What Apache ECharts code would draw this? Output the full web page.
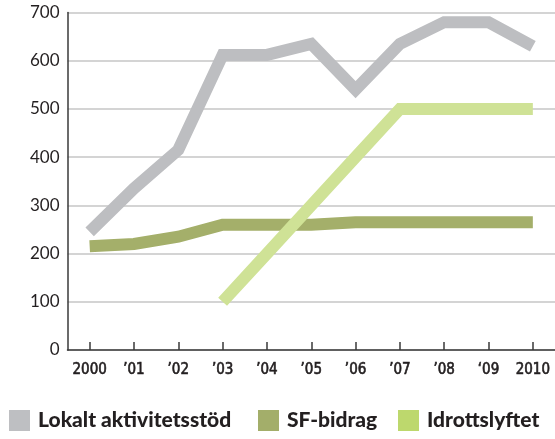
<!DOCTYPE html>
<html>
<head>
<meta charset="utf-8">
<title>Stöd 2000-2010</title>
<script src="https://cdn.jsdelivr.net/npm/echarts@6/dist/echarts.min.js"></script>
<style>
html, body { margin: 0; padding: 0; background: #fff; }
#main { width: 555px; height: 439px; }
</style>
</head>
<body>
<div id="main"></div>
<script>
// år på x-axeln
var years = ['2000', '\u201901', '\u201902', '\u201903', '\u201904', '\u201905', '\u201906', '\u201907', '\u201908', '\u201809', '2010'];

// värden
var lokaltStod = [245, 335, 415, 612, 612, 635, 540, 635, 680, 680, 630];
var sfBidrag = [215, 220, 235, 260, 260, 260, 265, 265, 265, 265, 265];
var idrottslyftet = ['-', '-', '-', 100, 200, 300, 400, 500, 500, 500, 500];

var yTicks = [0, 100, 200, 300, 400, 500, 600, 700];

var names = ['Lokalt aktivitetsstöd', 'SF-bidrag', 'Idrottslyftet'];
var lineColors = ['#bdbec1', '#a4af6a', '#cfe296'];
var legendColors = ['#bebfc2', '#a3ae6a', '#bdd86d'];
var legendLeft = [9, 258, 398];

var textColor = '#231f20';

var myChart = echarts.init(document.getElementById('main'));

var legends = names.map(function (n, i) {
	return {
		data: [{ name: n, itemStyle: { color: legendColors[i], borderWidth: 0 } }],
		left: legendLeft[i],
		top: 410,
		padding: 0,
		icon: 'rect',
		itemWidth: 21,
		itemHeight: 21,
		selectedMode: false,
		textStyle: {
			fontFamily: 'Lato',
			fontWeight: 900,
			fontSize: 21,
			color: textColor,
			padding: [0, 0, 0, 3]
		}
	};
});

var seriesData = [lokaltStod, sfBidrag, idrottslyftet];

var option = {
	animation: false,
	legend: legends,
	grid: { left: 67.5, top: 12.5, width: 490, height: 337.5 },
	xAxis: {
		type: 'category',
		data: years,
		boundaryGap: true,
		axisLine: { lineStyle: { color: '#3a3a3a', width: 1.5 } },
		axisTick: { show: true, inside: true, length: 8, alignWithLabel: true, lineStyle: { color: '#3a3a3a', width: 1.5 } },
		axisLabel: {
			interval: 0,
			margin: 13,
			fontFamily: '"DejaVu Sans Condensed", sans-serif',
			fontSize: 15,
			color: textColor,
			textBorderColor: textColor,
			textBorderWidth: 0.6
		}
	},
	yAxis: {
		type: 'value',
		min: yTicks[0],
		max: yTicks[yTicks.length - 1],
		interval: 100,
		axisLine: { show: true, lineStyle: { color: '#3a3a3a', width: 1.5 } },
		axisTick: { show: false },
		axisLabel: {
			margin: 8,
			fontFamily: 'Lato',
			fontSize: 17,
			color: textColor
		},
		splitLine: { lineStyle: { color: '#c6c6c6', width: 1.5 } }
	},
	series: names.map(function (n, i) {
		return {
			name: n,
			type: 'line',
			data: seriesData[i],
			symbol: 'none',
			itemStyle: { color: legendColors[i] },
			lineStyle: { color: lineColors[i], width: 12, cap: 'butt', join: 'miter' }
		};
	})
};

myChart.setOption(option);
</script>
</body>
</html>
